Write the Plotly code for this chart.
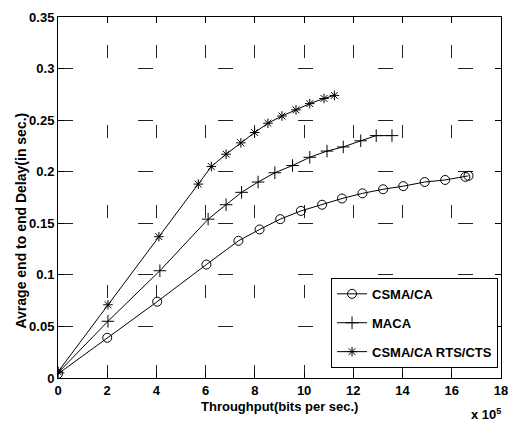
import plotly.graph_objects as go

# Data (throughput in units of 1e5 bits/sec, delay in sec)
csma_x = [0, 2.0, 4.03, 6.03, 7.33, 8.19, 9.03, 9.87, 10.73, 11.54, 12.37, 13.21, 14.03, 14.9, 15.73, 16.55, 16.68]
csma_y = [0.004, 0.039, 0.074, 0.110, 0.133, 0.144, 0.154, 0.162, 0.168, 0.174, 0.179, 0.183, 0.186, 0.190, 0.192, 0.195, 0.196]

maca_x = [0, 2.03, 4.14, 6.1, 6.83, 7.46, 8.13, 8.81, 9.53, 10.23, 10.93, 11.59, 12.3, 12.93, 13.57]
maca_y = [0.005, 0.055, 0.104, 0.154, 0.168, 0.180, 0.190, 0.199, 0.206, 0.214, 0.220, 0.224, 0.230, 0.235, 0.235]

rts_x = [0, 2.03, 4.1, 5.7, 6.23, 6.83, 7.43, 7.99, 8.53, 9.1, 9.67, 10.23, 10.81, 11.23]
rts_y = [0.006, 0.071, 0.137, 0.188, 0.205, 0.217, 0.228, 0.238, 0.247, 0.254, 0.260, 0.266, 0.271, 0.274]

x_ticks = [0, 2, 4, 6, 8, 10, 12, 14, 16, 18]
y_ticks = [0, 0.05, 0.1, 0.15, 0.2, 0.25, 0.3, 0.35]

FONT = "Liberation Sans, Arial, sans-serif"

fig = go.Figure()
series = [
    ("CSMA/CA", csma_x, csma_y, "circle-open", 9),
    ("MACA", maca_x, maca_y, "cross-thin-open", 9),
    ("CSMA/CA RTS/CTS", rts_x, rts_y, "asterisk-open", 8),
]
for name, xs, ys, sym, sz in series:
    fig.add_trace(go.Scatter(
        x=xs, y=ys, name=name, mode="lines+markers", legendgroup=name,
        line=dict(color="black", width=1),
        marker=dict(symbol=sym, size=sz, color="black", line=dict(color="black", width=1)),
    ))

axis_common = dict(
    showline=True, linecolor="black", linewidth=1, mirror="ticks",
    ticks="inside", ticklen=6, tickcolor="black", tickwidth=1,
    showgrid=True, gridcolor="#222222", gridwidth=1,
    zeroline=False,
    tickfont=dict(family=FONT, size=13, color="black", weight="bold"),
)

fig.update_xaxes(range=[0, 18], tickvals=x_ticks, griddash="0px,28px,13px,39px",
                 ticklabeloverflow="allow", **axis_common)
fig.update_yaxes(range=[0, 0.35], tickvals=y_ticks, griddash="15px,65px",
                 ticklabeloverflow="allow", **axis_common)

fig.update_layout(
    width=513, height=423,
    margin=dict(l=58, r=5, t=17, b=45),
    paper_bgcolor="white", plot_bgcolor="white",
    font=dict(family=FONT, color="black"),
    showlegend=True,
    legend=dict(
        x=0.9933, xanchor="right", y=0.028, yanchor="bottom",
        bgcolor="white", bordercolor="black", borderwidth=1,
        font=dict(family=FONT, size=13, color="black", weight="bold"),
        traceorder="grouped", tracegroupgap=9,
    ),
    annotations=[
        dict(text="Throughput(bits per sec.)", xref="paper", yref="paper",
             x=0.5, y=-0.0776, xanchor="center", yanchor="middle", showarrow=False,
             font=dict(family=FONT, size=13, color="black", weight="bold")),
        dict(text="Avrage end to end Delay(in sec.)", xref="paper", yref="paper",
             x=-0.0845, y=0.435, xanchor="center", yanchor="middle", showarrow=False,
             textangle=-90,
             font=dict(family=FONT, size=14, color="black", weight="bold")),
        dict(text="x 10<sup>5</sup>", xref="paper", yref="paper",
             x=0.9656, y=-0.1, xanchor="center", yanchor="middle", showarrow=False,
             font=dict(family=FONT, size=13, color="black", weight="bold")),
    ],
)

fig.write_html("out.html")
